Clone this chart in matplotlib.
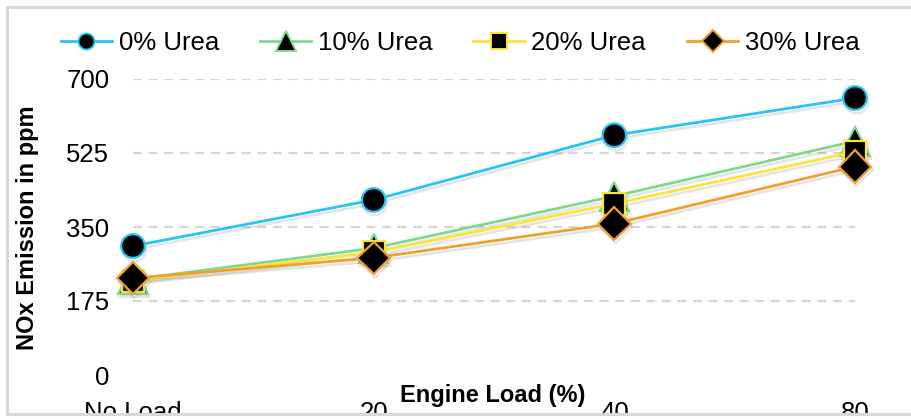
import numpy as np
import matplotlib
matplotlib.use("Agg")
import matplotlib.pyplot as plt
import matplotlib.patheffects as pe
from matplotlib.lines import Line2D
from matplotlib.patches import Rectangle

plt.rcParams['font.family'] = ['Liberation Sans', 'DejaVu Sans']

# data
loads = ["No Load", "20", "40", "80"]
urea_0 = [305, 414, 567, 655]
urea_10 = [226, 300, 423, 553]
urea_20 = [223, 290, 405, 528]
urea_30 = [229, 277, 358, 493]
yticks = [0, 175, 350, 525, 700]

series = [
    ("0% Urea", urea_0, "#29c4f4", "o", 17),
    ("10% Urea", urea_10, "#80d88c", "^", 21),
    ("20% Urea", urea_20, "#fbe43c", "s", 16),
    ("30% Urea", urea_30, "#f0a02e", "D", 16.5),
]

W, H = 911, 419
fig = plt.figure(figsize=(W / 100, H / 100), dpi=100)
ax = fig.add_axes([133 / W, (H - 375) / H, (855 - 133) / W, (375 - 79) / H])

x = np.arange(len(loads))
shadow = [pe.SimpleLineShadow(offset=(1, -2.5), shadow_color="#9a9a9a", alpha=0.25),
          pe.Normal()]
handles = []
for name, vals, col, mk, ms in series:
    ax.plot(x, vals, color=col, lw=2, marker=mk, markersize=ms,
            markerfacecolor="black", markeredgecolor=col, markeredgewidth=1.6,
            path_effects=shadow, clip_on=False, zorder=3)
    handles.append(Line2D([], [], color=col, lw=2, marker=mk, markersize=ms * 0.68,
                          markerfacecolor="black", markeredgecolor=col,
                          markeredgewidth=1.4, label=name))

ax.set_xlim(0, 3)
ax.set_ylim(0, 700)
ax.set_xticks(x)
ax.set_xticklabels(loads)
ax.set_yticks(yticks)
ax.tick_params(axis="both", length=0, labelsize=18.5, colors="black")
ax.tick_params(axis="y", pad=17)
ax.tick_params(axis="x", pad=19)
ax.yaxis.grid(True, color="#d6d6d2", lw=1.6, ls=(0, (4, 3)))
ax.get_ygridlines()[0].set_visible(False)
for s in ax.spines.values():
    s.set_visible(False)

fig.text(28 / W, (H - 228) / H, "NOx Emission in ppm", rotation=90,
         ha="center", va="center", fontsize=17, fontweight="bold")
fig.text(493 / W, (H - 395) / H, "Engine Load (%)", ha="center", va="center",
         fontsize=17, fontweight="bold")

ax.legend(handles=handles, loc="center", bbox_to_anchor=(460 / W, (H - 43) / H),
          bbox_transform=fig.transFigure, ncol=4, frameon=False,
          fontsize=18.5, handlelength=2.0, handletextpad=0.25,
          columnspacing=1.6)

# chart frame, cut off at the bottom like the original
fig.add_artist(Rectangle((0, 0), 1, 5 / H, transform=fig.transFigure,
                         color="white", zorder=20))
frame_col = "#d9d9d3"
fig.add_artist(Line2D([7 / W, 7 / W, 1], [5 / H, (H - 7) / H, (H - 7) / H],
                      transform=fig.transFigure, color=frame_col, lw=2.2, zorder=21))
fig.add_artist(Line2D([7 / W, 1], [5 / H, 5 / H],
                      transform=fig.transFigure, color=frame_col, lw=2.2, zorder=21))

fig.savefig("out.png", dpi=100)
